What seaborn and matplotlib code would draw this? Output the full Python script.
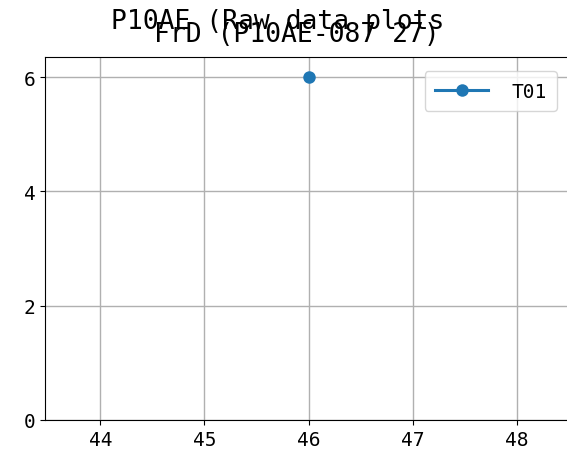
import matplotlib
matplotlib.use("Agg")
import matplotlib.pyplot as plt
import seaborn as sns
import pandas as pd

frames = [46]
values = [6]
series = ["T01"]

df = pd.DataFrame({"frame": frames, "value": values, "series": series * len(frames)})

plt.rcParams["font.family"] = ["DejaVu Sans Mono", "Noto Sans CJK JP"]
plt.rcParams["font.size"] = 14

fig = plt.figure(figsize=(5.67, 4.64), dpi=100)
ax = fig.add_axes([0.0794, 0.0927, 0.93, 0.782])
sns.lineplot(data=df, x="frame", y="value", hue="series", marker="o",
             markersize=9, markeredgewidth=0, linewidth=2.2,
             palette=["#1f77b4"], ax=ax)
ax.set_xlim(43.47, 48.53)
ax.set_ylim(0, 6.35)
ax.set_xticks([44, 45, 46, 47, 48])
ax.set_yticks([0, 2, 4, 6])
ax.grid(True, color="#b0b0b0", linewidth=1)
ax.set_xlabel("")
ax.set_ylabel("")
ax.set_title("FrD (P10AE-087 27)", fontsize=19, pad=11.5, x=0.478)
fig.suptitle("P10AE (Raw data plots", fontsize=19, x=0.49, y=0.981)
ax.legend(loc="upper right", fontsize=14, borderpad=0.55, handlelength=2.7,
          handletextpad=1.2, borderaxespad=0, bbox_to_anchor=(0.971, 0.962))
fig.savefig("out.png", dpi=100)
